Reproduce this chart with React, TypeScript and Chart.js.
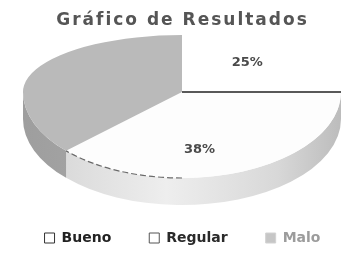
import React, { useEffect, useRef } from "react";
import { Chart, registerables } from "chart.js";

Chart.register(...registerables);

const TITLE = "Gráfico de Resultados";
const categories = ["Bueno", "Regular", "Malo"];
const values = [25, 38, 37];
const sliceLabels = ["25%", "38%", ""];
const topColors = ["#ffffff", "#fdfdfd", "#bababa"];
const sideStops = [
  ["#d8d8d8", "#d8d8d8", "#d8d8d8", "#d8d8d8"],
  ["#d2d2d2", "#eeeeee", "#d8d8d8", "#bcbcbc"],
  ["#9e9e9e", "#aaaaaa", "#b0b0b0", "#b0b0b0"],
];
const legendFill = ["#ffffff", "#ffffff", "#c6c6c6"];
const legendStroke = ["#333333", "#555555", "#d2d2d2"];
const legendText = ["#222222", "#2a2a2a", "#9c9c9c"];

// perspective ellipse: back half flatter than front half
const GEO = { cx: 182, cy: 92, rx: 159, ryBack: 57, ryFront: 86, depth: 27 };

function applyTransform(ctx: CanvasRenderingContext2D, arc0: any, ry: number) {
  const R = arc0.outerRadius;
  ctx.translate(GEO.cx, GEO.cy);
  ctx.scale(GEO.rx / R, ry / R);
  ctx.translate(-arc0.x, -arc0.y);
}

const pie3d = {
  id: "pie3d",
  afterInit(chart: any) {
    const tb = chart.titleBlock;
    if (tb && !tb.__spaced) {
      const orig = tb.draw;
      tb.draw = function (...args: any[]) {
        const c: any = this.ctx;
        const prev = c.letterSpacing;
        c.letterSpacing = "2px";
        orig.apply(this, args);
        c.letterSpacing = prev || "0px";
      };
      tb.__spaced = true;
    }
  },
  beforeDatasetsDraw(chart: any) {
    const meta = chart.getDatasetMeta(0);
    const ctx = chart.ctx as CanvasRenderingContext2D;
    const { cx, cy, rx, ryFront, depth } = GEO;
    meta.data.forEach((arc: any, i: number) => {
      const { startAngle, endAngle } = arc.getProps(["startAngle", "endAngle"], true);
      const a1 = Math.max(startAngle, 0);
      const a2 = Math.min(endAngle, Math.PI);
      if (a2 <= a1) return;
      const g = ctx.createLinearGradient(cx - rx, 0, cx + rx, 0);
      const s = sideStops[i];
      g.addColorStop(0, s[0]);
      g.addColorStop(0.45, s[1]);
      g.addColorStop(0.8, s[2]);
      g.addColorStop(1, s[3]);
      ctx.save();
      ctx.fillStyle = g;
      ctx.beginPath();
      ctx.ellipse(cx, cy, rx, ryFront, 0, a1, a2);
      ctx.ellipse(cx, cy + depth, rx, ryFront, 0, a2, a1, true);
      ctx.closePath();
      ctx.fill();
      ctx.restore();
    });
    // back half of the top face
    ctx.save();
    ctx.beginPath();
    ctx.rect(0, 0, chart.width, cy + 1);
    ctx.clip();
    applyTransform(ctx, meta.data[0], GEO.ryBack);
  },
  afterDatasetsDraw(chart: any) {
    const ctx = chart.ctx as CanvasRenderingContext2D;
    ctx.restore();
    const meta = chart.getDatasetMeta(0);
    const { cx, cy, rx, ryFront, ryBack } = GEO;
    // front half of the top face
    ctx.save();
    ctx.beginPath();
    ctx.rect(0, cy, chart.width, chart.height - cy);
    ctx.clip();
    applyTransform(ctx, meta.data[0], ryFront);
    meta.data.forEach((arc: any) => arc.draw(ctx));
    ctx.restore();

    const reg: any = meta.data[1];
    const regStart = reg.startAngle;
    const regEnd = reg.endAngle;
    ctx.save();
    ctx.strokeStyle = "#6a6a6a";
    ctx.lineWidth = 1.2;
    ctx.setLineDash([6, 3]);
    ctx.beginPath();
    ctx.ellipse(cx, cy, rx, ryFront, 0, Math.PI / 2, regEnd);
    ctx.stroke();
    ctx.restore();
    ctx.save();
    ctx.strokeStyle = "#222";
    ctx.lineWidth = 1.6;
    ctx.beginPath();
    ctx.moveTo(cx, cy);
    ctx.lineTo(cx + rx * Math.cos(regStart), cy + ryFront * Math.sin(regStart));
    ctx.stroke();
    ctx.restore();
    ctx.save();
    ctx.font = "bold 13px 'DejaVu Sans'";
    ctx.fillStyle = "#4a4a4a";
    ctx.textAlign = "center";
    ctx.textBaseline = "middle";
    meta.data.forEach((arc: any, i: number) => {
      const txt = sliceLabels[i];
      if (!txt) return;
      const mid = (arc.startAngle + arc.endAngle) / 2;
      const s = Math.sin(mid);
      const back = s < 0;
      const ry = back ? ryBack : ryFront;
      const x = cx + rx * (back ? 0.58 : 0.3) * Math.cos(mid);
      const y = cy + ry * (back ? 0.74 : 0.72) * s;
      ctx.fillText(txt, x, y);
    });
    ctx.restore();
  },
};

export default function App() {
  const ref = useRef<HTMLCanvasElement | null>(null);
  useEffect(() => {
    if (!ref.current) return;
    const chart = new Chart(ref.current, {
      type: "pie",
      data: {
        labels: categories,
        datasets: [
          {
            data: values,
            backgroundColor: topColors,
            borderWidth: 0,
            clip: false as any,
          },
        ],
      },
      options: {
        animation: false,
        responsive: true,
        maintainAspectRatio: false,
        layout: { padding: { top: 0, left: -4, right: -20, bottom: 0 } },
        plugins: {
          tooltip: { enabled: false },
          title: {
            display: true,
            text: TITLE,
            color: "#555555",
            font: { family: "DejaVu Sans", size: 17, weight: "bold" },
            padding: { top: 10, bottom: 4 },
          },
          legend: {
            position: "bottom",
            labels: {
              boxWidth: 10,
              boxHeight: 10,
              padding: 38,
              font: { family: "DejaVu Sans", size: 14, weight: "bold" },
              generateLabels: () =>
                categories.map((c, i) => ({
                  text: c,
                  fillStyle: legendFill[i],
                  strokeStyle: legendStroke[i],
                  lineWidth: 1,
                  fontColor: legendText[i],
                  hidden: false,
                  index: i,
                  datasetIndex: 0,
                })),
            },
          },
        },
      },
      plugins: [pie3d],
    });
    return () => chart.destroy();
  }, []);
  return (
    <div style={{ position: "fixed", left: 0, top: 0, width: 349, height: 255, background: "#fff" }}>
      <canvas ref={ref} />
    </div>
  );
}
